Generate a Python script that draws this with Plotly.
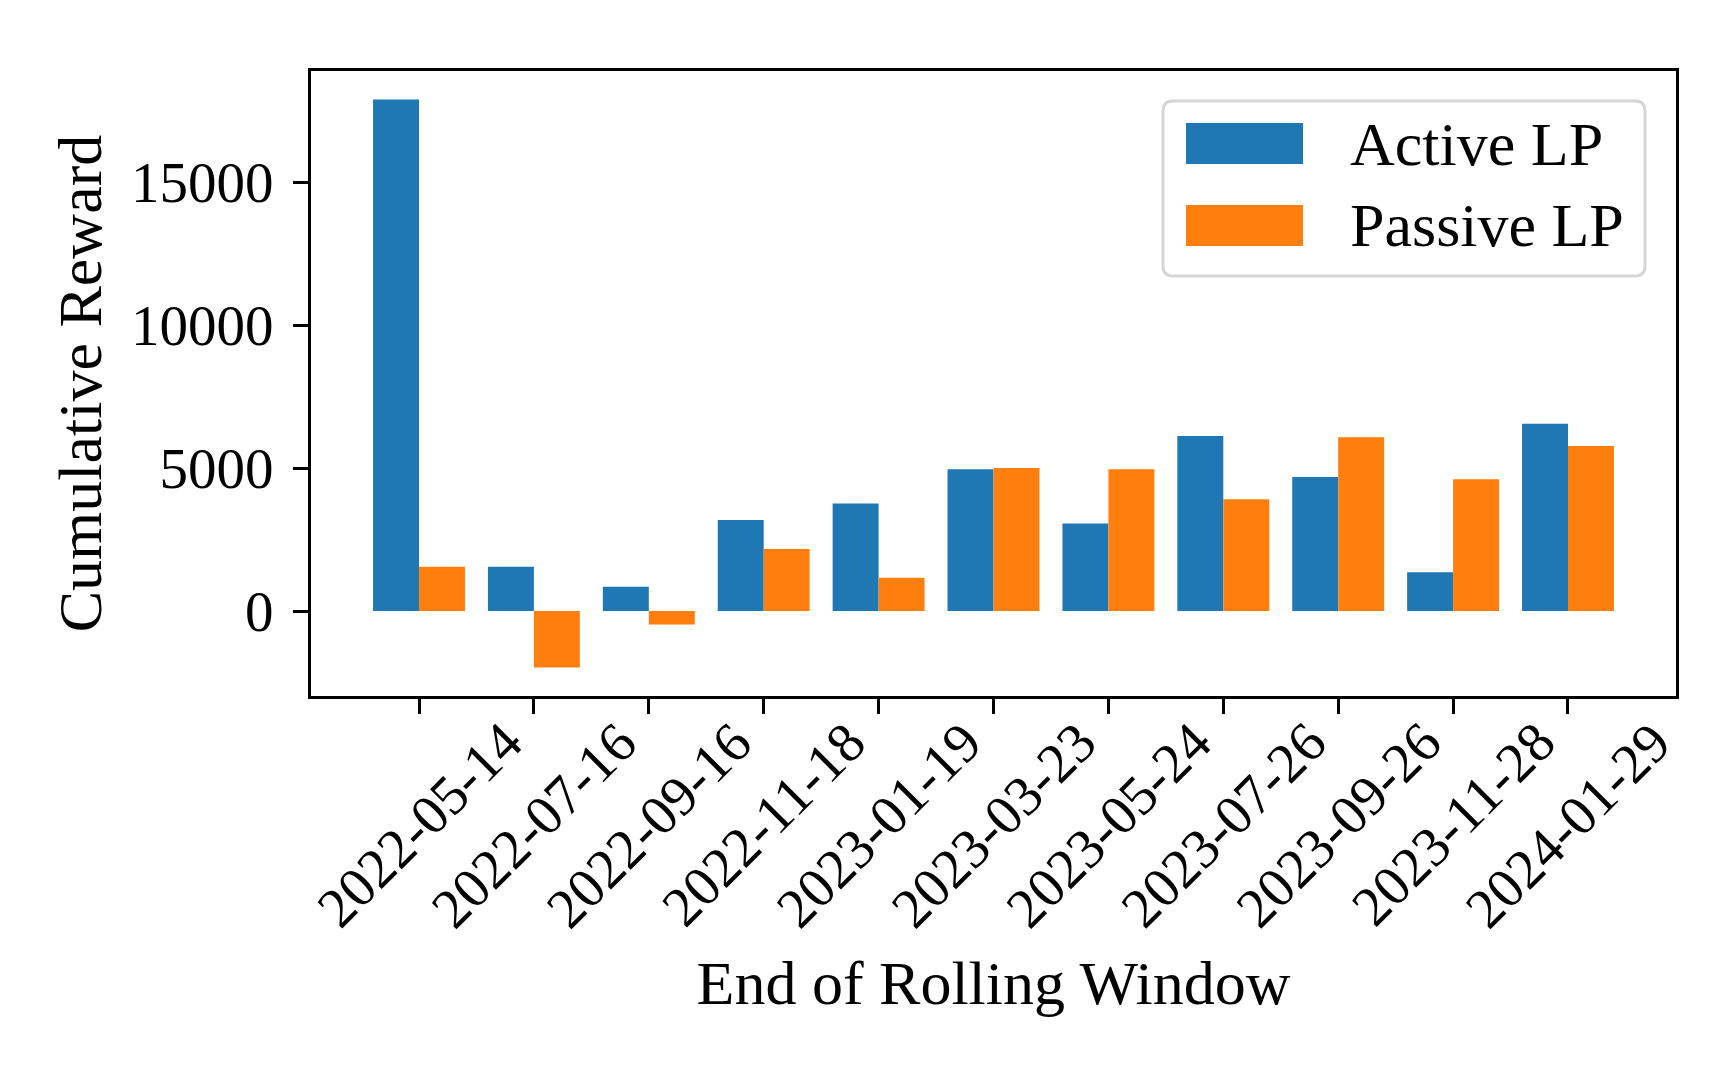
import plotly.graph_objects as go

# ---- data ----
dates = ["2022-05-14", "2022-07-16", "2022-09-16", "2022-11-18", "2023-01-19",
         "2023-03-23", "2023-05-24", "2023-07-26", "2023-09-26", "2023-11-28",
         "2024-01-29"]
active_lp = [17900, 1550, 850, 3180, 3760, 4960, 3060, 6120, 4690, 1360, 6550]
passive_lp = [1550, -1980, -470, 2170, 1160, 5000, 4960, 3910, 6080, 4610, 5770]
series_names = ["Active LP", "Passive LP"]
y_ticks = [0, 5000, 10000, 15000]

BLUE = "#1f77b4"
ORANGE = "#ff7f0e"
FONT = "Liberation Serif"

W, H = 1736, 1073
L, R, T, B = 303, 68, 63, 385
PW, PH = W - L - R, H - T - B

def px2paper(x, y):
    return (x - L) / PW, (H - B - y) / PH

# axis ranges with matplotlib-like 5% margins
vals = active_lp + passive_lp
lo, hi = min(min(vals), 0), max(max(vals), 0)
pad = 0.05 * (hi - lo)
yrange = [lo - pad, hi + pad]
xpad = 0.05 * (len(dates) - 1 + 0.8)
xrange = [-0.4 - xpad, len(dates) - 1 + 0.4 + xpad]

fig = go.Figure()
fig.add_trace(go.Bar(x=dates, y=active_lp, name=series_names[0],
                     marker=dict(color=BLUE, line=dict(width=0)), showlegend=False))
fig.add_trace(go.Bar(x=dates, y=passive_lp, name=series_names[1],
                     marker=dict(color=ORANGE, line=dict(width=0)), showlegend=False))

fig.update_layout(
    width=W, height=H,
    margin=dict(l=L, r=R, t=T, b=B, autoexpand=False),
    paper_bgcolor="white", plot_bgcolor="white",
    barmode="group", bargap=0.2, bargroupgap=0,
    font=dict(family=FONT, size=56, color="black"),
)
fig.update_xaxes(
    type="category", range=xrange, showgrid=False, zeroline=False,
    showline=True, linecolor="black", linewidth=3, mirror=True,
    ticks="outside", ticklen=15, tickwidth=3, tickcolor="black",
    showticklabels=False,
    title=dict(text="End of Rolling Window", font=dict(size=62), standoff=248),
    automargin=False,
)
fig.update_yaxes(
    range=yrange, showgrid=False, zeroline=False,
    showline=True, linecolor="black", linewidth=3, mirror=True,
    ticks="outside", ticklen=15, tickwidth=3, tickcolor="black",
    tickvals=y_ticks, ticktext=[str(v) for v in y_ticks],
    tickfont=dict(size=57), ticklabelstandoff=8,
    title=dict(text="Cumulative Reward", font=dict(size=62), standoff=10),
    automargin=False,
)

# rotated category labels centred under ticks (matplotlib rotation=45 style)
for d in dates:
    fig.add_annotation(x=d, xref="x", y=0, yref="paper", text=d,
                       textangle=-45, xanchor="center", yanchor="top",
                       yshift=-12, showarrow=False, font=dict(size=56))

# legend (matplotlib style with wide patches)
bx0, by0 = px2paper(1155, 93)
bx1, by1 = px2paper(1637, 268)
rx, ry = 10 / PW, 10 / PH
path = (f"M {bx0+rx},{by0} L {bx1-rx},{by0} Q {bx1},{by0} {bx1},{by0-ry} "
        f"L {bx1},{by1+ry} Q {bx1},{by1} {bx1-rx},{by1} "
        f"L {bx0+rx},{by1} Q {bx0},{by1} {bx0},{by1+ry} "
        f"L {bx0},{by0-ry} Q {bx0},{by0} {bx0+rx},{by0} Z")
fig.add_shape(type="path", path=path, xref="paper", yref="paper",
              line=dict(color="#d6d6d6", width=3), fillcolor="rgba(255,255,255,0.8)")
for i, (name, col) in enumerate(zip(series_names, [BLUE, ORANGE])):
    yc = 135.5 + 82 * i
    px0, py0 = px2paper(1178, yc - 20.5)
    px1, py1 = px2paper(1295, yc + 20.5)
    fig.add_shape(type="rect", xref="paper", yref="paper",
                  x0=px0, x1=px1, y0=py1, y1=py0,
                  line=dict(width=0), fillcolor=col)
    tx, ty = px2paper(1340, yc)
    fig.add_annotation(x=tx, y=ty, xref="paper", yref="paper", text=name,
                       xanchor="left", yanchor="middle", showarrow=False,
                       font=dict(size=62))

fig.write_html("out.html")
